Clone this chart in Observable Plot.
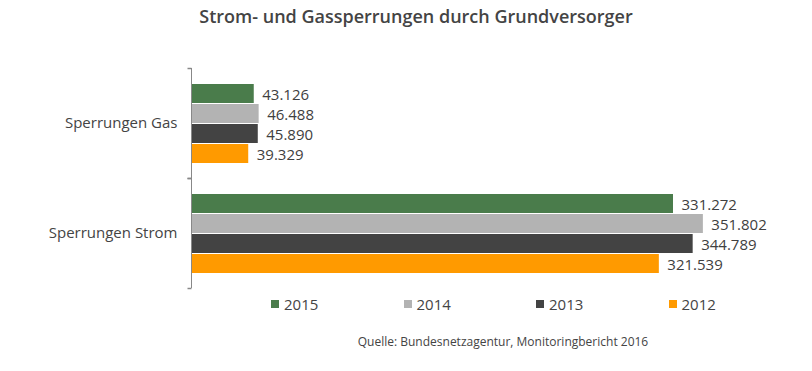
<!DOCTYPE html>
<html><head><meta charset="utf-8">
<script src="https://cdn.jsdelivr.net/npm/d3@7"></script>
<script src="https://cdn.jsdelivr.net/npm/@observablehq/plot@0.6"></script>
<style>
body{margin:0;background:#fff;font-family:"Open Sans",sans-serif;color:#444;}
#wrap{position:relative;width:812px;height:371px;overflow:hidden;}
#title{position:absolute;top:4px;left:0;width:832px;text-align:center;font-size:18px;font-weight:600;color:#444;}
#chart{position:absolute;top:0;left:0;}
#legend{position:absolute;top:294px;left:271px;display:flex;font-size:15px;color:#444;}
#legend .item{width:132.5px;display:flex;align-items:center;}
#legend .sw{width:8px;height:8px;margin-right:5px;}
#caption{position:absolute;top:333px;left:0;width:1006px;text-align:center;font-size:12px;color:#444;}
</style></head>
<body><div id="wrap">
<div id="title">Strom- und Gassperrungen durch Grundversorger</div>
<div id="chart"></div>
<div id="legend"></div>
<div id="caption">Quelle: Bundesnetzagentur, Monitoringbericht 2016</div>
</div>
<script>
const categories = ["Sperrungen Gas", "Sperrungen Strom"];
const years = ["2015", "2014", "2013", "2012"];
const colors = ["#4a7c4b", "#b3b3b3", "#434343", "#ff9a00"];
const gasValues = [43126, 46488, 45890, 39329];
const stromValues = [331272, 351802, 344789, 321539];

const data = [];
years.forEach((y, i) => {
  data.push({cat: categories[0], year: y, value: gasValues[i]});
  data.push({cat: categories[1], year: y, value: stromValues[i]});
});
const fmt = v => v.toLocaleString("de-DE");
const tickSymbol = {draw(ctx){ ctx.moveTo(-4,0); ctx.lineTo(0,0); }};

const plot = Plot.plot({
  width: 812, height: 300,
  marginLeft: 191, marginRight: 39, marginTop: 68, marginBottom: 12,
  style: {fontFamily: "Open Sans, sans-serif", fontSize: "15px", color: "#444", background: "transparent"},
  x: {domain: [0, 400000], axis: null},
  y: {domain: years, paddingInner: 0.05, paddingOuter: 0.73, axis: null},
  fy: {domain: categories, padding: 0, label: null, tickSize: 0, tickPadding: 14},
  color: {domain: years, range: colors},
  marks: [
    Plot.barX(data, {fy: "cat", y: "year", x: "value", fill: "year"}),
    Plot.text(data, {fy: "cat", y: "year", x: "value", text: d => fmt(d.value), textAnchor: "start", dx: 8, dy: 1, fontSize: 15, fill: "#404040"}),
    Plot.ruleX([0], {stroke: "#888", strokeWidth: 1}),
    Plot.dot([0], {frameAnchor: "top-left", symbol: tickSymbol, stroke: "#888", fill: "none", r: 4}),
    Plot.dot([0], {frameAnchor: "bottom-left", symbol: tickSymbol, stroke: "#888", fill: "none", r: 4})
  ]
});
document.getElementById("chart").appendChild(plot);

const legend = document.getElementById("legend");
years.forEach((y, i) => {
  const it = document.createElement("div"); it.className = "item";
  const sw = document.createElement("div"); sw.className = "sw"; sw.style.background = colors[i];
  const t = document.createElement("span"); t.textContent = y;
  it.appendChild(sw); it.appendChild(t); legend.appendChild(it);
});
</script>
</body></html>
